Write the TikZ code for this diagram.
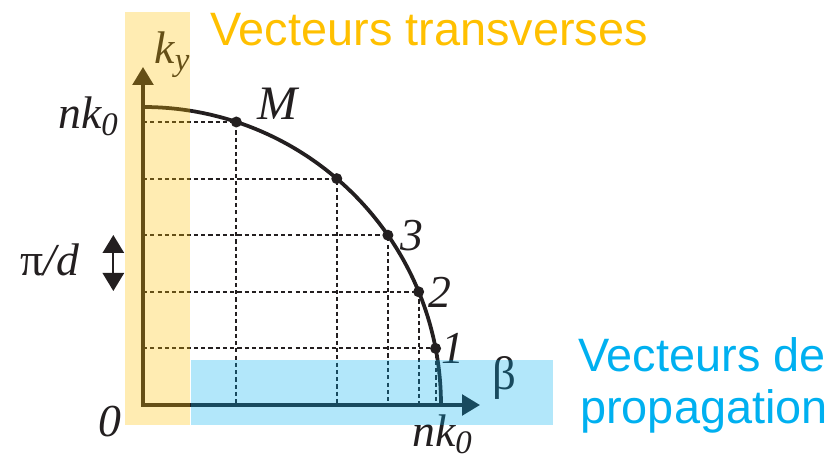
\documentclass[tikz,border=0pt]{standalone}
\usepackage{fontspec}
\setmainfont{Liberation Serif}
\newfontfamily\titlefont{Liberation Sans}
\usetikzlibrary{arrows.meta}
\definecolor{inkblack}{HTML}{231F20}
\definecolor{bandyellow}{HTML}{FFC000}
\definecolor{bandblue}{HTML}{00B0F0}
\newcommand{\lowsub}[1]{\raisebox{-0.15em}{\fontsize{28}{28}\selectfont #1}}

\begin{document}
\begin{tikzpicture}[
  gridline/.style={line width=1.6pt, inkblack, dash pattern=on 3.6pt off 2.6pt},
  dot/.style={fill=inkblack},
  lbl/.style={inner sep=0pt, font=\fontsize{39}{40}\selectfont\itshape, text=inkblack},
  bigtext/.style={anchor=base west, inner sep=0pt, font=\titlefont\fontsize{40}{44}\selectfont},
  band/.style={fill opacity=0.3}
]
\useasboundingbox (-4.290,-1.680) rectangle (20.790,12.150);
\coordinate (O) at (0,0);
\coordinate (m1) at (8.777,1.698);
\coordinate (m2) at (8.270,3.396);
\coordinate (m3) at (7.347,5.094);
\coordinate (m4) at (5.813,6.792);
\coordinate (m5) at (2.800,8.490);
% grid
\draw[gridline] (O |- m1) -- (m1) -- (m1 |- O);
\draw[gridline] (O |- m2) -- (m2) -- (m2 |- O);
\draw[gridline] (O |- m3) -- (m3) -- (m3 |- O);
\draw[gridline] (O |- m4) -- (m4) -- (m4 |- O);
\draw[gridline] (O |- m5) -- (m5) -- (m5 |- O);
% curve
\draw[line width=3.2pt, inkblack] (0,8.940) arc[start angle=90, end angle=0, radius=8.940];
\fill[dot] (m1) circle (0.165);
\fill[dot] (m2) circle (0.165);
\fill[dot] (m3) circle (0.165);
\fill[dot] (m4) circle (0.165);
\fill[dot] (m5) circle (0.165);
% axes
\draw[line width=3.0pt, inkblack, line join=miter, {Triangle[length=0.540cm,width=0.620cm]}-{Triangle[length=0.540cm,width=0.620cm]}] (0,10.140) -- (O) -- (10.110,0);
\draw[line width=1.5pt, inkblack, {Triangle[length=0.540cm,width=0.640cm]}-{Triangle[length=0.540cm,width=0.640cm]}] (-0.890,5.100) -- (-0.890,3.420);
% labels
\node[lbl] (ky) at (0.870,10.500) {k\lowsub{y}};
\node[lbl] (nktop) at (-1.650,8.670) {nk\lowsub{0}};
\node[lbl, font=\fontsize{41}{42}\selectfont\itshape] (M) at (4.050,9.030) {M};
\node[lbl] (p3) at (8.070,5.070) {3};
\node[lbl] (p2) at (8.910,3.390) {2};
\node[lbl] (p1) at (9.300,1.710) {1};
\node[lbl, font=\fontsize{40}{40}\selectfont] (beta) at (10.830,0.810) {β};
\node[lbl] (zero) at (-0.990,-0.510) {0};
\node[lbl] (nkright) at (8.970,-0.870) {nk\lowsub{0}};
\node[lbl] (pid) at (-2.790,4.350) {{\upshape π}/d};
% bands
\fill[band, bandyellow] (-0.540,-0.600) rectangle (1.410,11.790);
\fill[band, bandblue] (1.440,-0.600) rectangle (12.300,1.350);
% titles
\node[bigtext, text=bandyellow] (title) at (2.010,10.770) {Vecteurs transverses};
\node[bigtext, text=bandblue] (propa) at (13.050,0.990) {Vecteurs de};
\node[bigtext, text=bandblue] (propb) at (13.110,-0.570) {propagation};
\end{tikzpicture}
\end{document}
